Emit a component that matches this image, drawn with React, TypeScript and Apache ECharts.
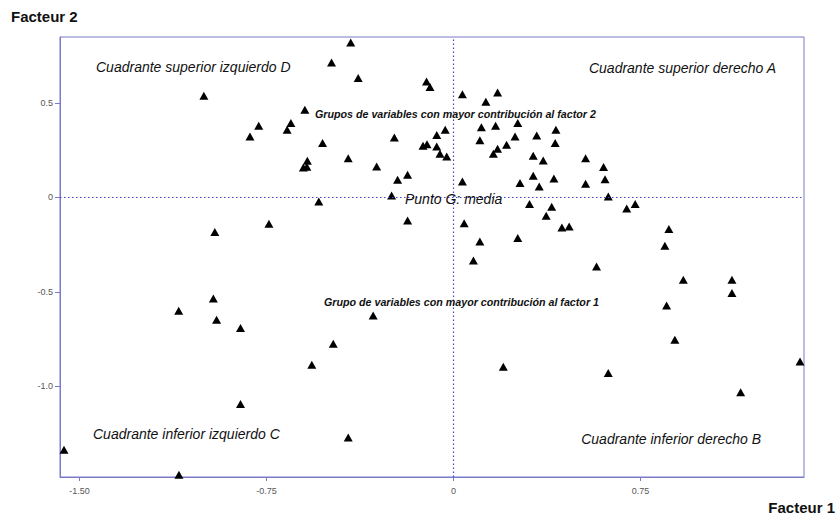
import React, { useEffect, useRef } from "react";
import * as echarts from "echarts";

const factor1: number[] = [
  -0.412, -0.489, -0.382, -0.108, -0.094, 0.036, 0.177, 0.130, -0.596, -0.652,
  -0.667, -0.781, -0.816, -1.001, 0.112, 0.169, 0.258, -0.033, -0.067, -0.237,
  0.106, 0.247, 0.334, 0.411, 0.408, -0.525, -0.122, -0.106, -0.067, -0.054,
  -0.027, -0.422, -0.586, -0.602, -0.588, -0.308, -0.184, -0.224, 0.036, -0.248,
  -0.540, 0.213, 0.177, 0.160, 0.320, 0.360, 0.530, 0.602, 0.608, 0.267,
  0.320, 0.403, 0.344, 0.530, 0.621, 0.305, 0.394, 0.695, 0.729, 0.043,
  0.372, 0.435, 0.464, 0.106, 0.258, 0.080, 0.574, 0.200, -0.184, -0.322,
  -0.482, -0.568, -0.957, -0.740, -0.963, -1.102, -0.950, -0.854, -0.854, -0.422,
  -1.562, -1.101, 0.864, 0.848, 0.922, 1.117, 1.117, 0.855, 0.888, 1.390,
  0.621, 1.152,
];

const factor2: number[] = [
  0.819, 0.713, 0.631, 0.613, 0.583, 0.545, 0.554, 0.505, 0.463, 0.393,
  0.357, 0.378, 0.322, 0.537, 0.371, 0.378, 0.393, 0.357, 0.329, 0.316,
  0.302, 0.322, 0.327, 0.357, 0.287, 0.287, 0.272, 0.280, 0.269, 0.230,
  0.216, 0.207, 0.193, 0.158, 0.161, 0.163, 0.119, 0.093, 0.084, 0.009,
  -0.022, 0.278, 0.257, 0.230, 0.220, 0.195, 0.207, 0.160, 0.095, 0.075,
  0.114, 0.099, 0.057, 0.071, 0.004, -0.035, -0.050, -0.059, -0.035, -0.137,
  -0.098, -0.160, -0.154, -0.234, -0.216, -0.334, -0.366, -0.897, -0.123, -0.625,
  -0.775, -0.886, -0.184, -0.140, -0.535, -0.601, -0.648, -0.692, -1.094, -1.271,
  -1.336, -1.468, -0.168, -0.257, -0.437, -0.437, -0.507, -0.572, -0.754, -0.869,
  -0.930, -1.031,
];

const xTicks: number[] = [-1.5, -0.75, 0, 0.75];
const yTicks: number[] = [0.5, 0, -0.5, -1.0];

const quadrantLabels: string[] = [
  "Cuadrante superior izquierdo D",
  "Cuadrante superior derecho A",
  "Cuadrante inferior izquierdo C",
  "Cuadrante inferior derecho B",
];
const centerLabel = "Punto G: media";
const groupLabels: string[] = [
  "Grupos de variables con mayor contribución al factor 2",
  "Grupo de variables con mayor contribución al factor 1",
];
const axisNames: string[] = ["Facteur 1", "Facteur 2"];

const FONT = "'Liberation Sans', Arial, Helvetica, sans-serif";
const AXIS_COLOR = "#7a7ac8";

export default function App() {
  const ref = useRef<HTMLDivElement | null>(null);

  useEffect(() => {
    if (!ref.current) return;
    const chart = echarts.init(ref.current, undefined, { renderer: "svg" });

    const points = factor1.map((x, i) => [x, factor2[i]]);

    const txt = (
      text: string,
      x: number,
      y: number,
      opts: { size: number; weight?: string; italic?: boolean; align?: string }
    ) => ({
      type: "text",
      x,
      y,
      silent: true,
      style: {
        text,
        fill: "#111111",
        fontFamily: FONT,
        fontSize: opts.size,
        fontWeight: opts.weight || "normal",
        fontStyle: opts.italic ? "italic" : "normal",
        textAlign: opts.align || "left",
        align: opts.align || "left",
        textVerticalAlign: "middle",
        verticalAlign: "middle",
      },
      z: 100,
    });

    const fmtX = (v: number) => (v === 0 ? "0" : v.toFixed(2));
    const fmtY = (v: number) => (v === 0 ? "0" : v.toFixed(1));

    chart.setOption({
      animation: false,
      backgroundColor: "#ffffff",
      grid: {
        left: 60,
        right: 33,
        top: 37,
        bottom: 38,
        show: true,
        borderColor: AXIS_COLOR,
        borderWidth: 1,
        backgroundColor: "transparent",
      },
      xAxis: {
        type: "value",
        min: -1.578,
        max: 1.406,
        axisLine: { show: true, onZero: false, lineStyle: { color: AXIS_COLOR, width: 1 } },
        axisTick: {
          show: true,
          length: 4,
          customValues: xTicks,
          lineStyle: { color: AXIS_COLOR },
        },
        axisLabel: {
          customValues: xTicks,
          formatter: fmtX,
          color: "#555",
          fontSize: 9,
          fontFamily: FONT,
          margin: 9,
        },
        splitLine: { show: false },
      },
      yAxis: {
        type: "value",
        min: -1.48,
        max: 0.848,
        axisLine: { show: true, onZero: false, lineStyle: { color: AXIS_COLOR, width: 1 } },
        axisTick: {
          show: true,
          length: 5,
          customValues: yTicks,
          lineStyle: { color: AXIS_COLOR },
        },
        axisLabel: {
          customValues: yTicks,
          formatter: fmtY,
          color: "#555",
          fontSize: 9,
          fontFamily: FONT,
          margin: 7,
        },
        splitLine: { show: false },
      },
      series: [
        {
          type: "scatter",
          data: points,
          symbol: "triangle",
          symbolSize: [9, 8],
          clip: false,
          itemStyle: { color: "#000000", opacity: 1 },
          silent: true,
          markLine: {
            silent: true,
            symbol: ["none", "none"],
            label: { show: false },
            lineStyle: { type: [1.5, 2.5], color: "#4646c8", width: 1.2, opacity: 1 },
            data: [{ xAxis: 0 }, { yAxis: 0 }],
          },
        },
      ],
      graphic: [
        txt(axisNames[1], 11, 16, { size: 15, weight: "bold" }),
        txt(axisNames[0], 835, 507, { size: 15, weight: "bold", align: "right" }),
        txt(quadrantLabels[0], 96, 67, { size: 14, italic: true }),
        txt(quadrantLabels[1], 776, 68, { size: 14, italic: true, align: "right" }),
        txt(quadrantLabels[2], 93, 434, { size: 14, italic: true }),
        txt(quadrantLabels[3], 761, 439, { size: 14, italic: true, align: "right" }),
        txt(centerLabel, 405, 198.5, { size: 14, italic: true }),
        txt(groupLabels[0], 315, 113.5, { size: 10.7, weight: "bold", italic: true }),
        txt(groupLabels[1], 324, 301.5, { size: 10.7, weight: "bold", italic: true }),
      ],
    });

    return () => {
      chart.dispose();
    };
  }, []);

  return (
    <div
      ref={ref}
      style={{ position: "fixed", left: 0, top: 0, width: 837, height: 515, background: "#fff" }}
    />
  );
}
